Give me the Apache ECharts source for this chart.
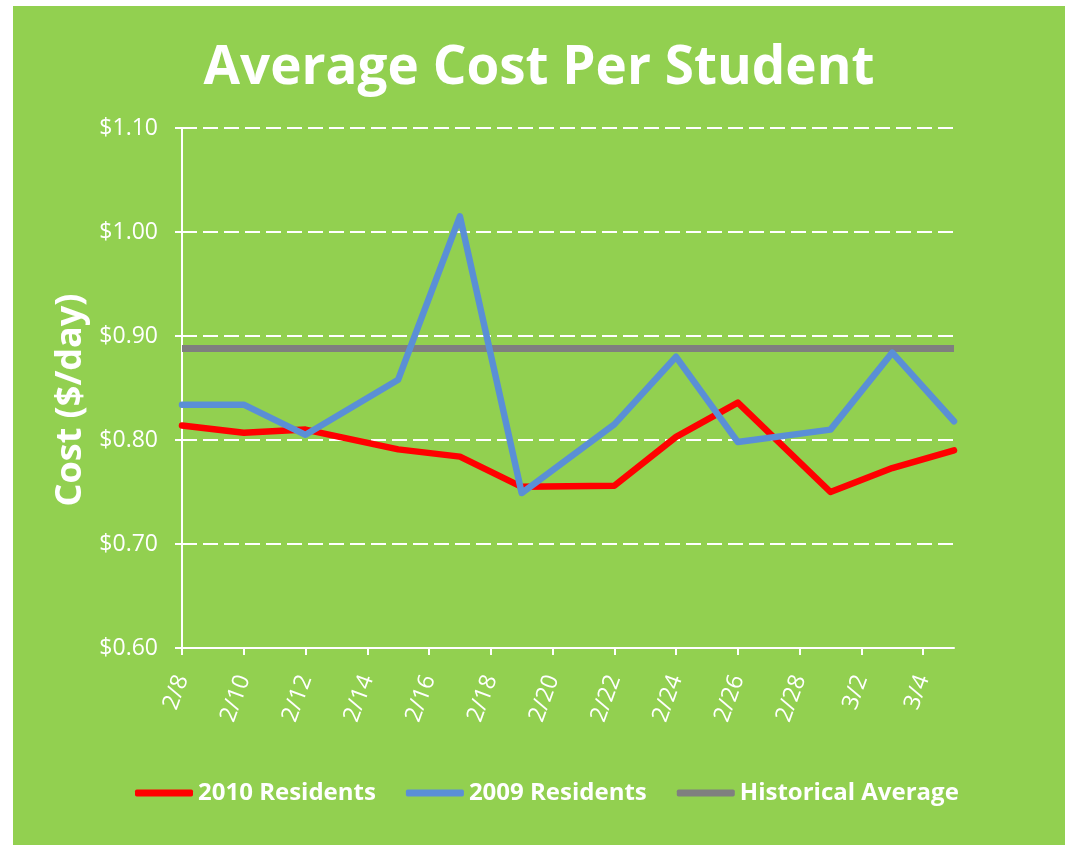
<!DOCTYPE html>
<html>
<head>
<meta charset="utf-8">
<title>Average Cost Per Student</title>
<script src="https://cdn.jsdelivr.net/npm/echarts@6/dist/echarts.min.js"></script>
<style>
  html, body { margin: 0; padding: 0; background: #fff; }
  #main {
    position: absolute;
    left: 13px; top: 6px;
    width: 1052px; height: 839px;
    background: #92d050;
  }
</style>
</head>
<body>
<div id="main"></div>
<script>
// 数据
var dates = ['2/8', '2/10', '2/12', '2/15', '2/17', '2/19', '2/22', '2/24', '2/26', '3/1', '3/3', '3/5'];
var residents2010 = [0.814, 0.807, 0.810, 0.791, 0.784, 0.755, 0.756, 0.803, 0.836, 0.750, 0.773, 0.790];
var residents2009 = [0.834, 0.834, 0.805, 0.858, 1.015, 0.749, 0.815, 0.880, 0.798, 0.810, 0.884, 0.818];
var historicalAvg = [0.888, 0.888, 0.888, 0.888, 0.888, 0.888, 0.888, 0.888, 0.888, 0.888, 0.888, 0.888];
var xTickLabels = ['2/8', '2/10', '2/12', '2/14', '2/16', '2/18', '2/20', '2/22', '2/24', '2/26', '2/28', '3/2', '3/4'];
var yTickLabels = ['$0.60', '$0.70', '$0.80', '$0.90', '$1.00', '$1.10'];
var xStart = '2/8', xEnd = '3/5';

(function () {
  var font = '"Open Sans", "DejaVu Sans", sans-serif';
  var DAY = 86400000;
  var base = Date.UTC(2010, 1, 8);

  // 'M/D' -> 天数 (从 2/8 算起)
  function dayIndex(s) {
    var p = s.split('/');
    return Math.round((Date.UTC(2010, +p[0] - 1, +p[1]) - base) / DAY);
  }
  function dayLabel(v) {
    var d = new Date(base + v * DAY);
    return (d.getUTCMonth() + 1) + '/' + d.getUTCDate();
  }
  function pairs(values) {
    return dates.map(function (d, i) { return [dayIndex(d), values[i]]; });
  }

  var tickValues = xTickLabels.map(dayIndex);
  var yMin = parseFloat(yTickLabels[0].slice(1));
  var yMax = parseFloat(yTickLabels[yTickLabels.length - 1].slice(1));

  var myChart = echarts.init(document.getElementById('main'));
  var option = {
    animation: false,
    textStyle: { fontFamily: font },
    title: {
      text: 'Average Cost Per Student',
      left: 'center',
      top: 31,
      textStyle: { color: '#fff', fontSize: 53, fontWeight: 'bold', fontFamily: font }
    },
    legend: {
      left: 117,
      top: 770,
      icon: 'roundRect',
      itemWidth: 58,
      itemHeight: 7,
      itemGap: 30,
      textStyle: { color: '#fff', fontSize: 24, fontWeight: 'bold', fontFamily: font },
      data: ['2010 Residents', '2009 Residents', 'Historical Average']
    },
    grid: {
      left: 169,
      right: 111,
      top: 122,
      bottom: 197
    },
    xAxis: {
      type: 'value',
      min: dayIndex(xStart),
      max: dayIndex(xEnd),
      interval: tickValues[1] - tickValues[0],
      splitLine: { show: false },
      axisLine: { lineStyle: { color: '#fff', width: 2 } },
      axisTick: {
        show: true,
        length: 7,
        lineStyle: { color: '#fff', width: 2 },
        customValues: tickValues
      },
      axisLabel: {
        show: true,
        color: '#fff',
        fontSize: 23,
        fontFamily: font,
        rotate: 70,
        margin: 28,
        showMaxLabel: false,
        hideOverlap: false,
        formatter: function (v) { return dayLabel(v); }
      }
    },
    yAxis: {
      type: 'value',
      min: yMin,
      max: yMax,
      interval: 0.1,
      name: 'Cost ($/day)',
      nameLocation: 'middle',
      nameGap: 90,
      nameTextStyle: {
        color: '#fff',
        fontSize: 36,
        fontWeight: 'bold',
        fontFamily: font,
        padding: [0, 24, 0, 0]
      },
      axisLine: { show: true, lineStyle: { color: '#fff', width: 2 } },
      axisTick: { show: true, length: 7, lineStyle: { color: '#fff', width: 2 } },
      axisLabel: {
        color: '#fff',
        fontSize: 23,
        margin: 24,
        formatter: function (v) { return '$' + v.toFixed(2); }
      },
      splitLine: {
        lineStyle: { color: '#fff', width: 2, type: [15, 6] }
      }
    },
    series: [
      {
        name: '2010 Residents',
        type: 'line',
        z: 3,
        symbol: 'none',
        color: '#ff0000',
        lineStyle: { width: 6.5, cap: 'round', join: 'round' },
        data: pairs(residents2010)
      },
      {
        name: '2009 Residents',
        type: 'line',
        z: 4,
        symbol: 'none',
        color: '#5a8fd6',
        lineStyle: { width: 6.5, cap: 'round', join: 'round' },
        data: pairs(residents2009)
      },
      {
        name: 'Historical Average',
        type: 'line',
        z: 2,
        symbol: 'none',
        color: '#7f7f7f',
        lineStyle: { width: 7 },
        data: pairs(historicalAvg)
      }
    ]
  };
  myChart.setOption(option);
  window.addEventListener('resize', function () {
    myChart.resize();
  });
})();
</script>
</body>
</html>
